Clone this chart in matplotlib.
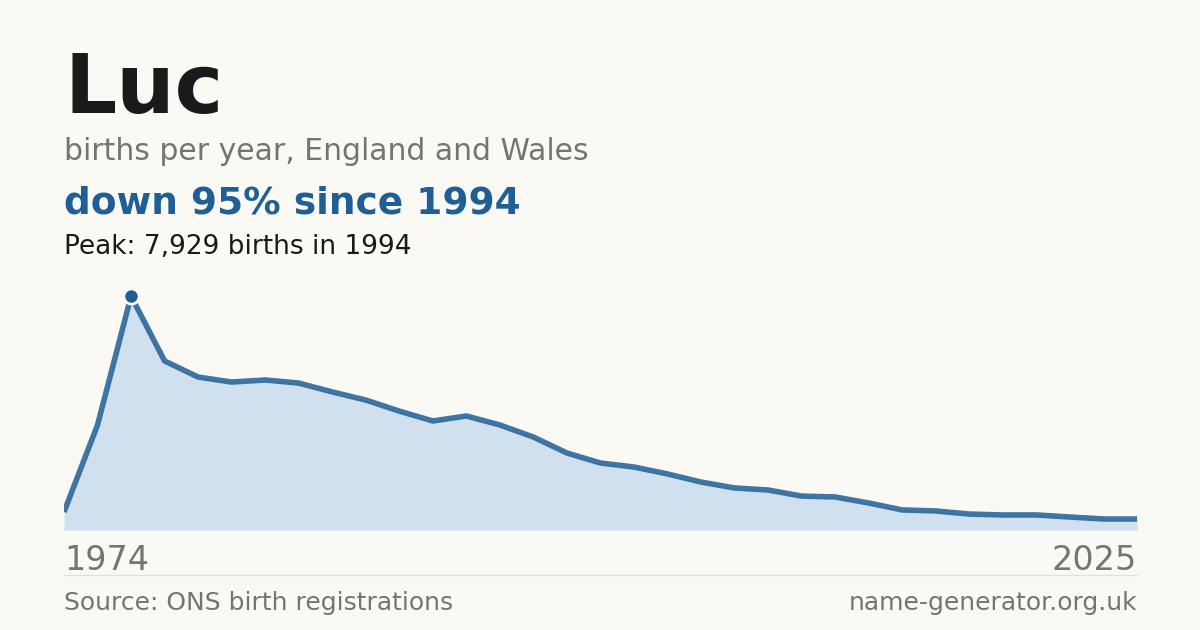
import matplotlib
matplotlib.use("Agg")
import matplotlib.pyplot as plt
plt.rcParams['font.family'] = ['DejaVu Sans']

values = [610, 3560, 7929, 5730, 5185, 5015, 5085, 4980, 4680, 4405, 4030, 3695,
          3865, 3560, 3150, 2610, 2270, 2135, 1900, 1625, 1425, 1355, 1150, 1120,
          915, 680, 645, 540, 510, 510, 440, 373, 373]
peak_idx = 2
start_label, end_label = "1974", "2025"

bg = "#faf9f4"
blue = "#1f5f96"
fig = plt.figure(figsize=(12, 6.3), dpi=100, facecolor=bg)

def Y(px):
    return 1 - px / 630

ax = fig.add_axes([64/1200, Y(530), (1137-64)/1200, (530-290)/630])
ax.set_facecolor(bg)
x = list(range(len(values)))
ax.fill_between(x, values, 0, color="#d0e0ef", lw=0)
ax.plot(x, values, color=blue, lw=4, alpha=0.85, solid_capstyle="butt")
ax.plot([peak_idx], [values[peak_idx]], "o", ms=11, color=blue, mec="white", mew=2, zorder=5)
ax.set_xlim(0, len(values) - 1)
ax.set_ylim(0, 8135)
ax.axis("off")

fig.text(64/1200, Y(113), "Luc", fontsize=59, fontweight="bold", color="#1a1a1a", va="baseline")
fig.text(64/1200, Y(160), "births per year, England and Wales", fontsize=21.5, color="#77736e", va="baseline")
fig.text(64/1200, Y(214), "down 95% since 1994", fontsize=27, fontweight="bold", color=blue, va="baseline")
fig.text(64/1200, Y(254), "Peak: 7,929 births in 1994", fontsize=19, color="#1a1a1a", va="baseline")
fig.text(64/1200, Y(570), start_label, fontsize=24, color="#77736e", va="baseline")
fig.text(1137/1200, Y(570), end_label, fontsize=24, color="#77736e", va="baseline", ha="right")
fig.add_artist(plt.Line2D([64/1200, 1137/1200], [Y(575), Y(575)], color="#e2e0da", lw=1))
fig.text(64/1200, Y(610), "Source: ONS birth registrations", fontsize=18, color="#77736e", va="baseline")
fig.text(1137/1200, Y(610), "name-generator.org.uk", fontsize=18, color="#77736e", va="baseline", ha="right")

fig.savefig("out.png", dpi=100, facecolor=bg)
